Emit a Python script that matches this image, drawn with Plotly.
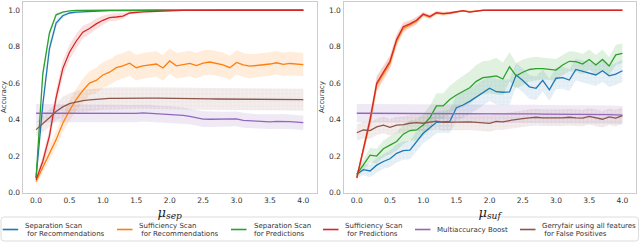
import plotly.graph_objects as go

# ---------------- data ----------------
MU = [0.0, 0.1, 0.2, 0.3, 0.4, 0.5, 0.6, 0.7, 0.8, 0.9, 1.0, 1.1, 1.2, 1.3, 1.4, 1.5,
      1.6, 1.7, 1.8, 1.9, 2.0, 2.1, 2.2, 2.3, 2.4, 2.5, 2.6, 2.7, 2.8, 2.9, 3.0, 3.1,
      3.2, 3.3, 3.4, 3.5, 3.6, 3.7, 3.8, 3.9, 4.0]

SERIES_NAMES = ["Separation Scan for Recommendations", "Sufficiency Scan for Recommendations",
                "Separation Scan for Predictions", "Sufficiency Scan for Predictions",
                "Multiaccuracy Boost", "Gerryfair using all features for False Positives"]
LEGEND_LINES = [["Separation Scan", "\u00a0for Recommendations"],
                ["Sufficiency Scan", "\u00a0for Recommendations"],
                ["Separation Scan", "for Predictions"],
                ["Sufficiency Scan", "\u00a0for Predictions"],
                ["Multiaccuracy Boost"],
                ["Gerryfair using all features", "\u00a0for False Positives"]]
COLORS = ["#1f77b4", "#ff7f0e", "#2ca02c", "#d62728", "#9467bd", "#8c564b"]
BANDS = ["rgba(31,119,180,0.13)", "rgba(255,127,14,0.15)", "rgba(44,160,44,0.15)",
         "rgba(214,39,40,0.15)", "rgba(148,103,189,0.15)", "rgba(140,86,75,0.13)"]
DOTTED = [True, False, False, False, False, True]

# left panel: mu_sep
sep_blue = [0.08, 0.48, 0.79, 0.93, 0.97, 0.985, 0.99, 0.992, 0.994, 0.996, 0.997, 0.998, 0.998, 0.999,
            0.999, 1.0, 1.0, 1.0, 1.0, 1.0, 1.0, 1.0, 1.0, 1.0, 1.0, 1.0, 1.0, 1.0, 1.0, 1.0, 1.0,
            1.0, 1.0, 1.0, 1.0, 1.0, 1.0, 1.0, 1.0, 1.0, 1.0]
sep_orange = [0.06, 0.14, 0.22, 0.29, 0.38, 0.45, 0.51, 0.56, 0.60, 0.615, 0.645, 0.66, 0.685, 0.695,
              0.71, 0.685, 0.695, 0.70, 0.705, 0.683, 0.722, 0.695, 0.70, 0.708, 0.696, 0.71, 0.716,
              0.71, 0.70, 0.685, 0.714, 0.70, 0.693, 0.697, 0.70, 0.705, 0.712, 0.703, 0.708, 0.705, 0.702]
sep_green = [0.08, 0.65, 0.875, 0.975, 0.99, 0.997, 0.999, 1.0, 1.0, 1.0, 1.0, 1.0, 1.0, 1.0, 1.0, 1.0,
             1.0, 1.0, 1.0, 1.0, 1.0, 1.0, 1.0, 1.0, 1.0, 1.0, 1.0, 1.0, 1.0, 1.0, 1.0, 1.0, 1.0, 1.0,
             1.0, 1.0, 1.0, 1.0, 1.0, 1.0, 1.0]
sep_red = [0.07, 0.17, 0.31, 0.52, 0.68, 0.77, 0.83, 0.88, 0.90, 0.925, 0.945, 0.96, 0.963, 0.968, 0.985,
           0.99, 0.991, 0.993, 0.995, 0.996, 0.997, 0.998, 0.999, 0.999, 1.0, 1.0, 1.0, 1.0, 1.0, 1.0,
           1.0, 1.0, 1.0, 1.0, 1.0, 1.0, 1.0, 1.0, 1.0, 1.0, 1.0]
sep_purple = [0.435, 0.435, 0.434, 0.435, 0.436, 0.436, 0.435, 0.435, 0.434, 0.435, 0.435, 0.435, 0.434,
              0.434, 0.432, 0.434, 0.437, 0.435, 0.432, 0.431, 0.429, 0.427, 0.423, 0.418, 0.41, 0.403,
              0.402, 0.402, 0.401, 0.402, 0.404, 0.396, 0.393, 0.39, 0.39, 0.388, 0.39, 0.391, 0.389,
              0.386, 0.383]
sep_brown = [0.345, 0.375, 0.41, 0.445, 0.47, 0.488, 0.498, 0.504, 0.508, 0.512, 0.514, 0.516, 0.517,
             0.518, 0.518, 0.519, 0.519, 0.518, 0.518, 0.518, 0.517, 0.517, 0.516, 0.516, 0.515, 0.514,
             0.514, 0.513, 0.513, 0.513, 0.512, 0.512, 0.512, 0.511, 0.511, 0.511, 0.511, 0.510, 0.510,
             0.510, 0.510]

sep_blue_err = [0.01, 0.04, 0.035, 0.02, 0.012, 0.008, 0.006, 0.005, 0.004, 0.003, 0.003, 0.002, 0.002,
                0.002, 0.002, 0.001, 0.001, 0.001, 0.001, 0.001, 0.001, 0.001, 0.001, 0.001, 0.001,
                0.001, 0.001, 0.001, 0.001, 0.001, 0.001, 0.001, 0.001, 0.001, 0.001, 0.001, 0.001,
                0.001, 0.001, 0.001, 0.001]
sep_orange_err = [0.02, 0.03, 0.04, 0.045, 0.05, 0.055, 0.06, 0.065, 0.065, 0.07, 0.07, 0.07, 0.07,
                  0.07, 0.07, 0.07, 0.07, 0.07, 0.07, 0.07, 0.07, 0.07, 0.07, 0.07, 0.07, 0.07, 0.068,
                  0.068, 0.068, 0.066, 0.066, 0.066, 0.066, 0.065, 0.065, 0.065, 0.065, 0.064, 0.064,
                  0.064, 0.064]
sep_green_err = [0.01, 0.03, 0.02, 0.01, 0.005, 0.003, 0.002, 0.001, 0.001, 0.001, 0.001, 0.001, 0.001,
                 0.001, 0.001, 0.001, 0.001, 0.001, 0.001, 0.001, 0.001, 0.001, 0.001, 0.001, 0.001,
                 0.001, 0.001, 0.001, 0.001, 0.001, 0.001, 0.001, 0.001, 0.001, 0.001, 0.001, 0.001,
                 0.001, 0.001, 0.001, 0.001]
sep_red_err = [0.015, 0.03, 0.04, 0.045, 0.045, 0.04, 0.04, 0.035, 0.03, 0.03, 0.025, 0.02, 0.02, 0.015,
               0.01, 0.008, 0.006, 0.005, 0.004, 0.003, 0.003, 0.002, 0.002, 0.002, 0.002, 0.002,
               0.002, 0.002, 0.002, 0.002, 0.002, 0.002, 0.002, 0.002, 0.002, 0.002, 0.002, 0.002,
               0.002, 0.002, 0.002]
sep_purple_err = [0.05, 0.05, 0.05, 0.05, 0.05, 0.05, 0.05, 0.05, 0.05, 0.05, 0.049, 0.049, 0.049,
                  0.048, 0.048, 0.048, 0.047, 0.047, 0.046, 0.046, 0.045, 0.045, 0.044, 0.044, 0.043,
                  0.043, 0.042, 0.042, 0.042, 0.041, 0.041, 0.041, 0.04, 0.04, 0.04, 0.04, 0.04, 0.04,
                  0.04, 0.04, 0.04]
sep_brown_err = [0.04, 0.045, 0.05, 0.05, 0.055, 0.055, 0.06, 0.06, 0.06, 0.06, 0.06, 0.06, 0.06, 0.06,
                 0.06, 0.06, 0.06, 0.06, 0.06, 0.06, 0.06, 0.06, 0.06, 0.06, 0.06, 0.06, 0.06, 0.06,
                 0.06, 0.06, 0.06, 0.06, 0.06, 0.06, 0.06, 0.06, 0.06, 0.06, 0.06, 0.06, 0.06]

# right panel: mu_suf
suf_blue = [0.10, 0.125, 0.118, 0.15, 0.17, 0.185, 0.215, 0.23, 0.232, 0.28, 0.325, 0.355, 0.385, 0.388,
            0.39, 0.465, 0.48, 0.50, 0.525, 0.55, 0.572, 0.553, 0.55, 0.552, 0.645, 0.615, 0.58, 0.572,
            0.615, 0.563, 0.627, 0.63, 0.617, 0.675, 0.665, 0.655, 0.645, 0.668, 0.64, 0.65, 0.668]
suf_orange = [0.08, 0.23, 0.39, 0.59, 0.65, 0.71, 0.83, 0.90, 0.92, 0.94, 0.975, 0.963, 0.985, 0.98,
              0.984, 0.99, 0.997, 0.992, 0.997, 0.999, 1.0, 1.0, 1.0, 1.0, 1.0, 1.0, 1.0, 1.0, 1.0, 1.0,
              1.0, 1.0, 1.0, 1.0, 1.0, 1.0, 1.0, 1.0, 1.0, 1.0, 1.0]
suf_green = [0.10, 0.15, 0.205, 0.20, 0.24, 0.26, 0.28, 0.32, 0.34, 0.343, 0.37, 0.41, 0.475, 0.475, 0.51,
             0.535, 0.555, 0.575, 0.61, 0.63, 0.635, 0.64, 0.623, 0.69, 0.64, 0.66, 0.675, 0.68, 0.68,
             0.678, 0.672, 0.70, 0.72, 0.718, 0.705, 0.73, 0.70, 0.73, 0.694, 0.755, 0.764]
suf_red = [0.08, 0.24, 0.40, 0.60, 0.66, 0.72, 0.84, 0.91, 0.925, 0.945, 0.98, 0.965, 0.987, 0.982, 0.985,
           0.993, 0.998, 0.99, 0.997, 1.0, 1.0, 1.0, 1.0, 1.0, 1.0, 1.0, 1.0, 1.0, 1.0, 1.0, 1.0, 1.0,
           1.0, 1.0, 1.0, 1.0, 1.0, 1.0, 1.0, 1.0, 1.0]
suf_purple = [0.435, 0.435, 0.434, 0.435, 0.435, 0.434, 0.435, 0.434, 0.434, 0.435, 0.434, 0.434, 0.433,
              0.434, 0.433, 0.434, 0.433, 0.433, 0.433, 0.433, 0.432, 0.433, 0.432, 0.432, 0.431, 0.431,
              0.432, 0.431, 0.43, 0.43, 0.431, 0.43, 0.429, 0.43, 0.429, 0.428, 0.428, 0.427, 0.427,
              0.426, 0.425]
suf_brown = [0.328, 0.343, 0.34, 0.36, 0.37, 0.358, 0.37, 0.372, 0.38, 0.383, 0.38, 0.385, 0.392, 0.385,
             0.386, 0.388, 0.39, 0.388, 0.385, 0.382, 0.379, 0.39, 0.388, 0.395, 0.402, 0.405, 0.41,
             0.413, 0.41, 0.408, 0.41, 0.41, 0.413, 0.41, 0.408, 0.418, 0.41, 0.402, 0.415, 0.408, 0.422]

suf_blue_err = [0.02, 0.03, 0.035, 0.04, 0.04, 0.045, 0.05, 0.05, 0.05, 0.055, 0.055, 0.06, 0.06, 0.06,
                0.065, 0.07, 0.07, 0.07, 0.07, 0.07, 0.07, 0.07, 0.07, 0.07, 0.065, 0.065, 0.065, 0.065,
                0.06, 0.06, 0.06, 0.06, 0.06, 0.06, 0.06, 0.06, 0.06, 0.06, 0.06, 0.06, 0.06]
suf_orange_err = [0.02, 0.03, 0.035, 0.04, 0.04, 0.035, 0.03, 0.025, 0.02, 0.02, 0.012, 0.012, 0.01,
                  0.01, 0.008, 0.006, 0.004, 0.006, 0.003, 0.002, 0.001, 0.001, 0.001, 0.001, 0.001,
                  0.001, 0.001, 0.001, 0.001, 0.001, 0.001, 0.001, 0.001, 0.001, 0.001, 0.001, 0.001,
                  0.001, 0.001, 0.001, 0.001]
suf_green_err = [0.02, 0.03, 0.04, 0.04, 0.045, 0.05, 0.05, 0.055, 0.055, 0.06, 0.06, 0.065, 0.07, 0.07,
                 0.075, 0.08, 0.085, 0.09, 0.09, 0.09, 0.09, 0.1, 0.09, 0.08, 0.07, 0.07, 0.065, 0.065,
                 0.06, 0.06, 0.06, 0.055, 0.055, 0.055, 0.055, 0.055, 0.055, 0.055, 0.05, 0.055, 0.055]
suf_red_err = [0.02, 0.03, 0.035, 0.04, 0.04, 0.035, 0.03, 0.025, 0.02, 0.02, 0.012, 0.012, 0.01, 0.01,
               0.008, 0.006, 0.004, 0.006, 0.003, 0.002, 0.001, 0.001, 0.001, 0.001, 0.001, 0.001,
               0.001, 0.001, 0.001, 0.001, 0.001, 0.001, 0.001, 0.001, 0.001, 0.001, 0.001, 0.001,
               0.001, 0.001, 0.001]
suf_purple_err = [0.05, 0.05, 0.05, 0.05, 0.05, 0.05, 0.05, 0.05, 0.05, 0.05, 0.05, 0.05, 0.05, 0.05,
                  0.05, 0.05, 0.05, 0.05, 0.05, 0.05, 0.05, 0.05, 0.05, 0.05, 0.05, 0.05, 0.05, 0.05,
                  0.05, 0.05, 0.05, 0.05, 0.05, 0.05, 0.05, 0.05, 0.05, 0.05, 0.05, 0.05, 0.05]
suf_brown_err = [0.045, 0.045, 0.045, 0.045, 0.045, 0.045, 0.045, 0.045, 0.045, 0.045, 0.045, 0.045,
                 0.045, 0.045, 0.045, 0.045, 0.045, 0.045, 0.045, 0.045, 0.045, 0.045, 0.045, 0.045,
                 0.045, 0.045, 0.045, 0.045, 0.045, 0.045, 0.045, 0.045, 0.045, 0.045, 0.045, 0.045,
                 0.045, 0.045, 0.045, 0.045, 0.045]

X_TICKS = [0.0, 0.5, 1.0, 1.5, 2.0, 2.5, 3.0, 3.5, 4.0]
Y_TICKS = [0.0, 0.2, 0.4, 0.6, 0.8, 1.0]

LEFT = [(sep_blue, sep_blue_err), (sep_orange, sep_orange_err), (sep_green, sep_green_err),
        (sep_red, sep_red_err), (sep_purple, sep_purple_err), (sep_brown, sep_brown_err)]
RIGHT = [(suf_blue, suf_blue_err), (suf_orange, suf_orange_err), (suf_green, suf_green_err),
         (suf_red, suf_red_err), (suf_purple, suf_purple_err), (suf_brown, suf_brown_err)]

# ---------------- figure ----------------
W, H = 640, 242
fig = go.Figure()


def add_panel(series, xa, ya):
    for i, (vals, err) in enumerate(series):
        lo = [v - e for v, e in zip(vals, err)]
        hi = [v + e for v, e in zip(vals, err)]
        fig.add_trace(go.Scatter(x=MU, y=lo, mode="lines", line=dict(width=0, color=COLORS[i]),
                                 showlegend=False, hoverinfo="skip", xaxis=xa, yaxis=ya))
        extra = {}
        if DOTTED[i]:
            extra["fillpattern"] = dict(shape=".", size=4, solidity=0.15, bgcolor=BANDS[i],
                                        fgcolor="rgba(255,255,255,0.6)", fillmode="replace")
        fig.add_trace(go.Scatter(x=MU, y=hi, mode="lines", line=dict(width=0, color=COLORS[i]),
                                 fill="tonexty", fillcolor=BANDS[i], showlegend=False,
                                 hoverinfo="skip", xaxis=xa, yaxis=ya, **extra))
    for i, (vals, err) in enumerate(series):
        fig.add_trace(go.Scatter(x=MU, y=vals, mode="lines", name=SERIES_NAMES[i],
                                 line=dict(width=1.3, color=COLORS[i]), showlegend=False,
                                 xaxis=xa, yaxis=ya))


add_panel(LEFT, "x", "y")
add_panel(RIGHT, "x2", "y2")

axis_common = dict(showline=True, mirror=True, linecolor="#cccccc", linewidth=1.2,
                   showgrid=False, zeroline=False, ticks="",
                   tickfont=dict(family="DejaVu Sans", size=7.5, color="#333333"))
ydom = [1 - 192.5 / H, 1 - 1.7 / H]
title_font = dict(family="DejaVu Serif", size=13, color="#222222")
ytitle = dict(text="Accuracy", font=dict(family="DejaVu Sans", size=7, color="#333333"), standoff=3)

fig.update_layout(
    width=W, height=H, margin=dict(l=0, r=0, t=0, b=0, autoexpand=False),
    paper_bgcolor="white", plot_bgcolor="white", showlegend=False,
    xaxis=dict(domain=[22.7 / W, 316.7 / W], range=[-0.2, 4.2], tickvals=X_TICKS, tickformat=".1f",
               anchor="y", title=dict(text="<i>μ</i><sub><i>sep</i></sub>", font=title_font, standoff=0),
               **axis_common),
    yaxis=dict(domain=ydom, range=[0, 1.047], tickvals=Y_TICKS, tickformat=".1f", anchor="x",
               title=ytitle, **axis_common),
    xaxis2=dict(domain=[343.5 / W, 635.7 / W], range=[-0.2, 4.2], tickvals=X_TICKS, tickformat=".1f",
                anchor="y2", title=dict(text="<i>μ</i><sub><i>suf</i></sub>", font=title_font, standoff=0),
                **axis_common),
    yaxis2=dict(domain=ydom, range=[0, 1.047], tickvals=Y_TICKS, tickformat=".1f", anchor="x2",
                title=ytitle, **axis_common),
)

# ---------------- legend (drawn in one row, below the panels) ----------------
def px(x):
    return x / W


def py(y):
    return 1 - y / H


# rounded frame
x0, x1, y0, y1, r = 1.0, 638.5, 217.0, 241.0, 3.0
path = (f"M {px(x0 + r)},{py(y0)} L {px(x1 - r)},{py(y0)} Q {px(x1)},{py(y0)} {px(x1)},{py(y0 + r)} "
        f"L {px(x1)},{py(y1 - r)} Q {px(x1)},{py(y1)} {px(x1 - r)},{py(y1)} "
        f"L {px(x0 + r)},{py(y1)} Q {px(x0)},{py(y1)} {px(x0)},{py(y1 - r)} "
        f"L {px(x0)},{py(y0 + r)} Q {px(x0)},{py(y0)} {px(x0 + r)},{py(y0)} Z")
fig.add_shape(type="path", path=path, xref="paper", yref="paper",
              line=dict(color="#dddddd", width=1), fillcolor="rgba(255,255,255,0.8)", layer="above")

LINE_X = [2.7, 117.0, 231.0, 323.0, 415.0, 520.0]
TEXT_X = [22.7, 137.0, 252.0, 343.0, 435.0, 540.0]
for i in range(6):
    fig.add_shape(type="line", xref="paper", yref="paper",
                  x0=px(LINE_X[i]), x1=px(LINE_X[i] + 15.5), y0=py(229.5), y1=py(229.5),
                  line=dict(color=COLORS[i], width=1.6), layer="above")
    lines = LEGEND_LINES[i]
    ys = [229.5] if len(lines) == 1 else [225.8, 233.6]
    for t, yy in zip(lines, ys):
        fig.add_annotation(x=px(TEXT_X[i]), y=py(yy), xref="paper", yref="paper", text=t,
                           showarrow=False, xanchor="left", yanchor="middle",
                           font=dict(family="DejaVu Sans", size=7, color="#333333"))

fig.write_html("out.html", config={"displayModeBar": False},
               post_script="document.body.style.margin='0';document.body.style.padding='0';")
